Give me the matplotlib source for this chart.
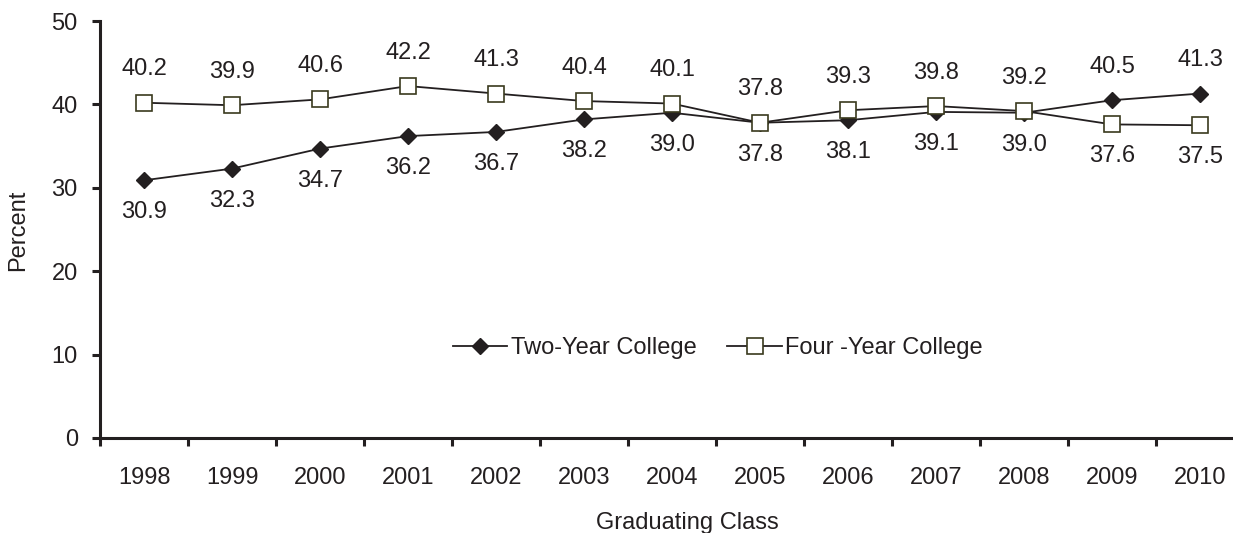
import matplotlib
matplotlib.use("Agg")
import matplotlib.pyplot as plt
import numpy as np

years = ["1998", "1999", "2000", "2001", "2002", "2003", "2004",
         "2005", "2006", "2007", "2008", "2009", "2010"]
two_year = [30.9, 32.3, 34.7, 36.2, 36.7, 38.2, 39.0, 37.8, 38.1, 39.1, 39.0, 40.5, 41.3]
four_year = [40.2, 39.9, 40.6, 42.2, 41.3, 40.4, 40.1, 37.8, 39.3, 39.8, 39.2, 37.6, 37.5]
y_ticks = [0, 10, 20, 30, 40, 50]

TXT = "#231f20"
plt.rcParams['font.family'] = ['Liberation Sans', 'DejaVu Sans']
FS = 17

W, H = 1233, 533
fig = plt.figure(figsize=(W / 100, H / 100), dpi=100)
ax = fig.add_axes([100 / W, 95 / H, 1144 / W, 417 / H])

x = np.arange(len(years))
ax.plot(x, two_year, color=TXT, lw=1.3, marker="D", markersize=8.5,
        markerfacecolor=TXT, markeredgecolor=TXT, label="Two-Year College", zorder=3)
ax.plot(x, four_year, color=TXT, lw=1.3, marker="s", markersize=11,
        markerfacecolor="white", markeredgecolor="#3a3a1e", markeredgewidth=1.2,
        label="Four -Year College", zorder=4)

n = len(years)
for i in range(n):
    two_above = two_year[i] > four_year[i]
    ax.annotate(f"{two_year[i]:.1f}", (x[i], two_year[i]),
                xytext=(0, 24 if two_above else -23), textcoords="offset points",
                ha="center", va="center", fontsize=FS, color=TXT)
    ax.annotate(f"{four_year[i]:.1f}", (x[i], four_year[i]),
                xytext=(0, -23 if two_above else 24), textcoords="offset points",
                ha="center", va="center", fontsize=FS, color=TXT)

ax.set_xlim(-0.5, n - 0.5)
ax.set_ylim(0, 50)
ax.set_yticks(y_ticks)
ax.set_yticklabels([str(v) for v in y_ticks])
ax.set_xticks(x)
ax.set_xticklabels(years)
ax.set_xticks(np.arange(-0.5, n, 1.0), minor=True)
ax.tick_params(axis="x", which="major", length=0, pad=21, labelsize=FS, colors=TXT)
ax.tick_params(axis="x", which="minor", length=6, width=2.2, color=TXT, direction="out")
ax.tick_params(axis="y", which="major", length=6, width=2.2, color=TXT, pad=10,
               labelsize=FS, labelcolor=TXT)

for s in ["top", "right"]:
    ax.spines[s].set_visible(False)
for s in ["left", "bottom"]:
    ax.spines[s].set_linewidth(2.2)
    ax.spines[s].set_color(TXT)

fig.text(18 / W, 1 - 230 / H, "Percent", rotation=90, ha="center", va="center",
         fontsize=FS, color=TXT)
fig.text(687 / W, 1 - 523 / H, "Graduating Class", ha="center", va="center",
         fontsize=FS, color=TXT)

leg = ax.legend(loc="center", bbox_to_anchor=(718 / W, 1 - 348 / H),
                bbox_transform=fig.transFigure, ncol=2, frameon=False,
                fontsize=FS, handlelength=2.3, handletextpad=0.15,
                columnspacing=1.3)
for t in leg.get_texts():
    t.set_color(TXT)

fig.savefig("out.png", dpi=100)
